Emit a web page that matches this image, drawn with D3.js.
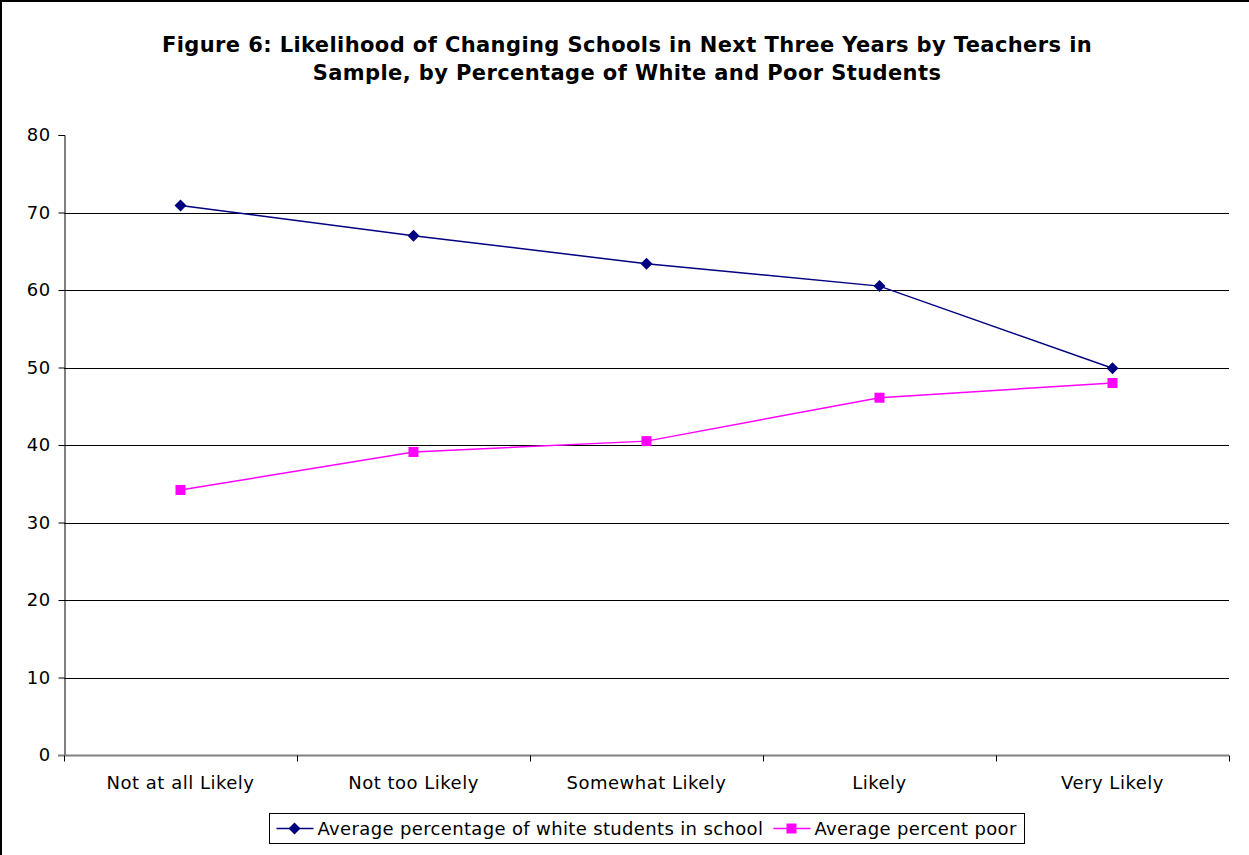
<!DOCTYPE html>
<html>
<head>
<meta charset="utf-8">
<script src="https://cdn.jsdelivr.net/npm/d3@7"></script>
<style>
  body { margin: 0; background: #fff; }
  text { font-family: "DejaVu Sans", Verdana, sans-serif; fill: #000; }
</style>
</head>
<body>
<svg id="chart"></svg>
<script>
// Chart data
const categories = ['Not at all Likely', 'Not too Likely', 'Somewhat Likely', 'Likely', 'Very Likely'];
const whiteValues = [70.9, 67.0, 63.4, 60.5, 49.9];
const poorValues = [34.2, 39.1, 40.5, 46.1, 48.0];
const yTicks = [0, 10, 20, 30, 40, 50, 60, 70, 80];
const seriesNames = ['Average percentage of white students in school', 'Average percent poor'];

const width = 1249, height = 855;
const margin = { top: 135, right: 20, bottom: 100, left: 64 };
const innerW = width - margin.left - margin.right;
const innerH = height - margin.top - margin.bottom;

const svg = d3.select('#chart')
  .attr('width', width)
  .attr('height', height);

// Outer border (only left and top edges show in the reference)
svg.append('rect')
  .attr('x', 1).attr('y', 1)
  .attr('width', width + 10).attr('height', height + 10)
  .attr('fill', 'none')
  .attr('stroke', '#000')
  .attr('stroke-width', 2);

// Title
const title = svg.append('text')
  .attr('text-anchor', 'middle')
  .style('font-size', '21px')
  .style('letter-spacing', '0.4px')
  .style('font-weight', 'bold');
title.append('tspan').attr('x', 627).attr('y', 52)
  .text('Figure 6: Likelihood of Changing Schools in Next Three Years by Teachers in');
title.append('tspan').attr('x', 627).attr('y', 80)
  .text('Sample, by Percentage of White and Poor Students');

const g = svg.append('g')
  .attr('transform', `translate(${margin.left},${margin.top})`);

// Scales
const x = d3.scaleBand().domain(categories).range([0, innerW]);
const y = d3.scaleLinear().domain([0, 80]).range([innerH, 0]);

// Gridlines
g.selectAll('.grid')
  .data(yTicks.filter(d => d > 0 && d < 80))
  .enter().append('line')
  .attr('x1', 0).attr('x2', innerW)
  .attr('y1', d => Math.round(y(d)) + 0.5)
  .attr('y2', d => Math.round(y(d)) + 0.5)
  .attr('stroke', '#000')
  .attr('stroke-width', 1);

// Y axis
const yAxis = d3.axisLeft(y).tickValues(yTicks).tickSize(6).tickPadding(8);
const yAxisG = g.append('g').attr('transform', 'translate(0.5,0)').call(yAxis);
yAxisG.select('.domain').attr('stroke', '#000');
yAxisG.selectAll('.tick line').attr('stroke', '#000');
yAxisG.selectAll('.tick text')
  .style('font-size', '18px')
  .style('letter-spacing', '0.4px')
  .attr('fill', '#000');

// X axis
const xAxisG = g.append('g').attr('transform', `translate(0,${innerH + 0.5})`);
xAxisG.append('line')
  .attr('x1', -6).attr('x2', innerW)
  .attr('stroke', '#808080').attr('stroke-width', 2);
const bounds = categories.map((c, i) => x(c)).concat([innerW]);
xAxisG.selectAll('.xtick')
  .data(bounds)
  .enter().append('line')
  .attr('x1', d => Math.round(d) + 0.5).attr('x2', d => Math.round(d) + 0.5)
  .attr('y1', 0).attr('y2', 6)
  .attr('stroke', '#000');
xAxisG.selectAll('.xlabel')
  .data(categories)
  .enter().append('text')
  .attr('x', d => x(d) + x.bandwidth() / 2)
  .attr('y', 33)
  .attr('text-anchor', 'middle')
  .style('font-size', '18px')
  .style('letter-spacing', '0.5px')
  .text(d => d);

// Lines
const line = d3.line()
  .x((d, i) => x(categories[i]) + x.bandwidth() / 2)
  .y(d => y(d));

g.append('path')
  .datum(whiteValues)
  .attr('d', line)
  .attr('fill', 'none')
  .attr('stroke', '#000080')
  .attr('stroke-width', 1.5);

g.append('path')
  .datum(poorValues)
  .attr('d', line)
  .attr('fill', 'none')
  .attr('stroke', '#ff00ff')
  .attr('stroke-width', 1.5);

// Markers: diamond is a square rotated 45 degrees
const diamond = d3.symbol().type(d3.symbolSquare).size(72);
g.selectAll('.white-pt')
  .data(whiteValues)
  .enter().append('path')
  .attr('d', diamond)
  .attr('transform', (d, i) => `translate(${x(categories[i]) + x.bandwidth() / 2},${y(d)}) rotate(45)`)
  .attr('fill', '#000080');

g.selectAll('.poor-pt')
  .data(poorValues)
  .enter().append('rect')
  .attr('x', (d, i) => x(categories[i]) + x.bandwidth() / 2 - 5)
  .attr('y', d => y(d) - 5)
  .attr('width', 10).attr('height', 10)
  .attr('fill', '#ff00ff');

// Legend
const legend = svg.append('g').attr('transform', 'translate(269.5,813.5)');
legend.append('rect')
  .attr('width', 755).attr('height', 30)
  .attr('fill', '#fff')
  .attr('stroke', '#000');

const legendItems = [
  { name: seriesNames[0], color: '#000080', shape: 'diamond', x: 7, textX: 48 },
  { name: seriesNames[1], color: '#ff00ff', shape: 'square', x: 504, textX: 545 }
];
legendItems.forEach(item => {
  legend.append('line')
    .attr('x1', item.x).attr('x2', item.x + 37)
    .attr('y1', 15).attr('y2', 15)
    .attr('stroke', item.color).attr('stroke-width', 1.5);
  if (item.shape === 'diamond') {
    legend.append('path')
      .attr('d', diamond)
      .attr('transform', `translate(${item.x + 18},15) rotate(45)`)
      .attr('fill', item.color);
  } else {
    legend.append('rect')
      .attr('x', item.x + 13).attr('y', 10)
      .attr('width', 10).attr('height', 10)
      .attr('fill', item.color);
  }
  legend.append('text')
    .attr('x', item.textX).attr('y', 21)
    .style('font-size', '18px')
    .style('letter-spacing', '0.35px')
    .text(item.name);
});
</script>
</body>
</html>
